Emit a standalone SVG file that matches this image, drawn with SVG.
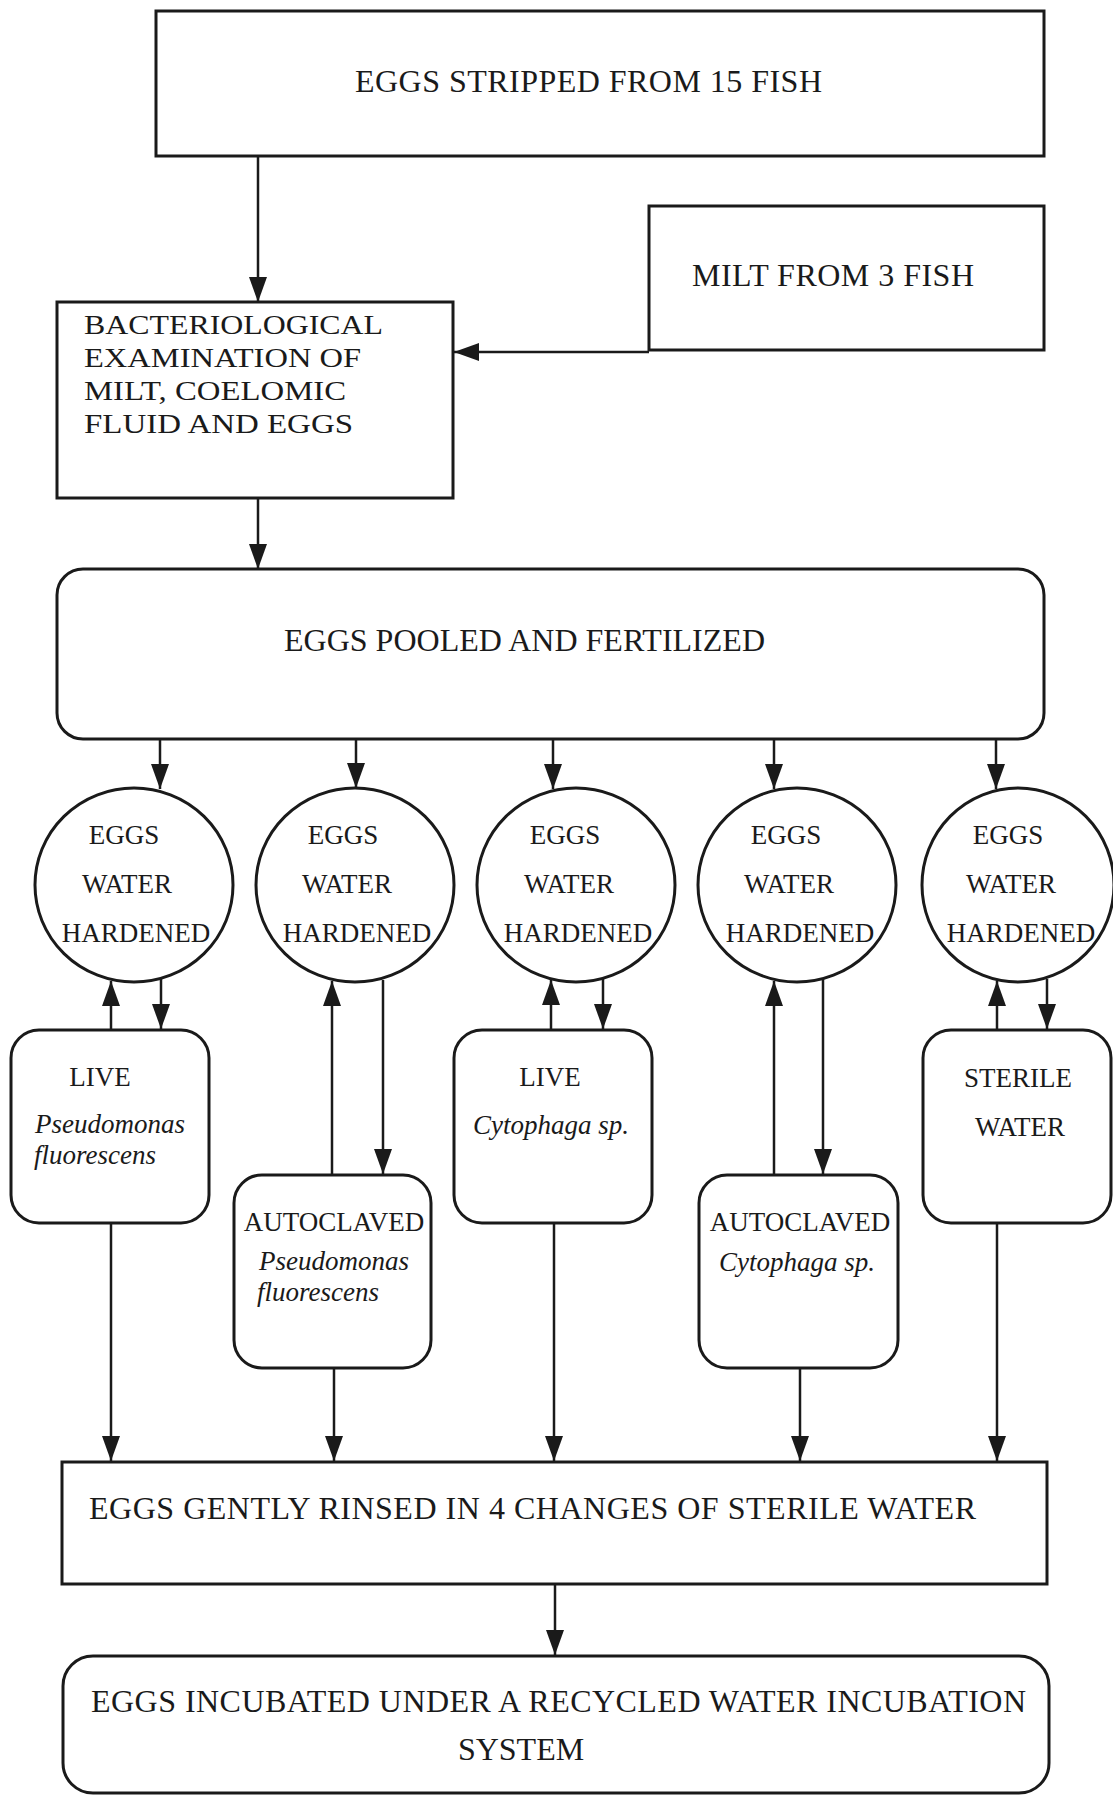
<svg xmlns="http://www.w3.org/2000/svg" width="1113" height="1795" viewBox="0 0 1113 1795">
<style>
.box{fill:#fff;stroke:#1a1a1a;stroke-width:3}
.t{font-family:"Liberation Serif","Times New Roman",serif;font-size:32px;fill:#1a1a1a}
.b{font-family:"Liberation Serif","Times New Roman",serif;font-size:28px;fill:#1a1a1a}
.s{font-family:"Liberation Serif","Times New Roman",serif;font-size:27px;fill:#1a1a1a}
.i{font-style:italic}
.c{text-anchor:middle}
.ln{stroke:#1a1a1a;stroke-width:2.5;fill:none;marker-end:url(#ah)}
</style>
<defs>
<marker id="ah" markerUnits="userSpaceOnUse" markerWidth="26" markerHeight="20" refX="25" refY="9" orient="auto">
<path d="M0,0 L25,9 L0,18 z" fill="#1a1a1a"/>
</marker>
</defs>
<rect width="1113" height="1795" fill="#fff"/>

<g id="connectors">
<line class="ln" x1="258" y1="156" x2="258" y2="302"/>
<line class="ln" x1="649" y1="352" x2="454" y2="352"/>
<line class="ln" x1="258" y1="498" x2="258" y2="569"/>
<line class="ln" x1="160" y1="739" x2="160" y2="789"/>
<line class="ln" x1="356" y1="739" x2="356" y2="788"/>
<line class="ln" x1="553" y1="739" x2="553" y2="789"/>
<line class="ln" x1="774" y1="739" x2="774" y2="789"/>
<line class="ln" x1="996" y1="739" x2="996" y2="789"/>
<line class="ln" x1="111" y1="1030" x2="111" y2="981"/>
<line class="ln" x1="161" y1="979" x2="161" y2="1029"/>
<line class="ln" x1="332" y1="1175" x2="332" y2="981"/>
<line class="ln" x1="383" y1="980" x2="383" y2="1174"/>
<line class="ln" x1="551" y1="1030" x2="551" y2="980"/>
<line class="ln" x1="603" y1="979" x2="603" y2="1029"/>
<line class="ln" x1="774" y1="1175" x2="774" y2="981"/>
<line class="ln" x1="823" y1="979" x2="823" y2="1174"/>
<line class="ln" x1="997" y1="1030" x2="997" y2="981"/>
<line class="ln" x1="1047" y1="979" x2="1047" y2="1029"/>
<line class="ln" x1="111" y1="1223" x2="111" y2="1461"/>
<line class="ln" x1="334" y1="1368" x2="334" y2="1461"/>
<line class="ln" x1="554" y1="1223" x2="554" y2="1461"/>
<line class="ln" x1="800" y1="1368" x2="800" y2="1461"/>
<line class="ln" x1="997" y1="1223" x2="997" y2="1461"/>
<line class="ln" x1="555" y1="1584" x2="555" y2="1655"/>
</g>

<g id="stripped">
<rect class="box" x="156" y="11" width="888" height="145"/>
<text class="t" x="355" y="92" textLength="467">EGGS STRIPPED FROM 15 FISH</text>
</g>

<g id="milt">
<rect class="box" x="649" y="206" width="395" height="144"/>
<text class="t" x="692" y="286" textLength="282">MILT FROM 3 FISH</text>
</g>

<g id="bacteriological">
<rect class="box" x="57" y="302" width="396" height="196"/>
<text class="b" x="84" y="334" textLength="299" lengthAdjust="spacingAndGlyphs">BACTERIOLOGICAL</text>
<text class="b" x="84" y="367" textLength="277" lengthAdjust="spacingAndGlyphs">EXAMINATION OF</text>
<text class="b" x="84" y="400" textLength="262" lengthAdjust="spacingAndGlyphs">MILT, COELOMIC</text>
<text class="b" x="84" y="433" textLength="269" lengthAdjust="spacingAndGlyphs">FLUID AND EGGS</text>
</g>

<g id="pooled">
<rect class="box" x="57" y="569" width="987" height="170" rx="26"/>
<text class="t" x="284" y="651" textLength="481">EGGS POOLED AND FERTILIZED</text>
</g>

<g id="hardened1">
<ellipse class="box" cx="134" cy="885" rx="99" ry="97"/>
<text class="s c" x="124" y="844">EGGS</text>
<text class="s c" x="127" y="893">WATER</text>
<text class="s c" x="136" y="942">HARDENED</text>
</g>
<g id="hardened2">
<ellipse class="box" cx="355" cy="885" rx="99" ry="97"/>
<text class="s c" x="343" y="844">EGGS</text>
<text class="s c" x="347" y="893">WATER</text>
<text class="s c" x="357" y="942">HARDENED</text>
</g>
<g id="hardened3">
<ellipse class="box" cx="576" cy="885" rx="99" ry="97"/>
<text class="s c" x="565" y="844">EGGS</text>
<text class="s c" x="569" y="893">WATER</text>
<text class="s c" x="578" y="942">HARDENED</text>
</g>
<g id="hardened4">
<ellipse class="box" cx="797" cy="885" rx="99" ry="97"/>
<text class="s c" x="786" y="844">EGGS</text>
<text class="s c" x="789" y="893">WATER</text>
<text class="s c" x="800" y="942">HARDENED</text>
</g>
<g id="hardened5">
<ellipse class="box" cx="1018" cy="885" rx="96" ry="97"/>
<text class="s c" x="1008" y="844">EGGS</text>
<text class="s c" x="1011" y="893">WATER</text>
<text class="s c" x="1021" y="942">HARDENED</text>
</g>

<g id="live-pseudomonas">
<rect class="box" x="11" y="1030" width="198" height="193" rx="28"/>
<text class="s c" x="100" y="1086">LIVE</text>
<text class="s i" x="35" y="1133">Pseudomonas</text>
<text class="s i" x="34" y="1164">fluorescens</text>
</g>
<g id="autoclaved-pseudomonas">
<rect class="box" x="234" y="1175" width="197" height="193" rx="28"/>
<text class="s c" x="334" y="1231">AUTOCLAVED</text>
<text class="s i" x="259" y="1270">Pseudomonas</text>
<text class="s i" x="257" y="1301">fluorescens</text>
</g>
<g id="live-cytophaga">
<rect class="box" x="454" y="1030" width="198" height="193" rx="28"/>
<text class="s c" x="550" y="1086">LIVE</text>
<text class="s i c" x="551" y="1134">Cytophaga sp.</text>
</g>
<g id="autoclaved-cytophaga">
<rect class="box" x="699" y="1175" width="199" height="193" rx="28"/>
<text class="s c" x="800" y="1231">AUTOCLAVED</text>
<text class="s i c" x="797" y="1271">Cytophaga sp.</text>
</g>
<g id="sterile-water">
<rect class="box" x="923" y="1030" width="188" height="193" rx="28"/>
<text class="s c" x="1018" y="1087">STERILE</text>
<text class="s c" x="1020" y="1136">WATER</text>
</g>

<g id="rinsed">
<rect class="box" x="62" y="1462" width="985" height="122"/>
<text class="t" x="89" y="1519" textLength="887">EGGS GENTLY RINSED IN 4 CHANGES OF STERILE WATER</text>
</g>

<g id="incubated">
<rect class="box" x="63" y="1656" width="986" height="137" rx="30"/>
<text class="t" x="91" y="1712" textLength="935">EGGS INCUBATED UNDER A RECYCLED WATER INCUBATION</text>
<text class="t c" x="521" y="1760">SYSTEM</text>
</g>
</svg>
